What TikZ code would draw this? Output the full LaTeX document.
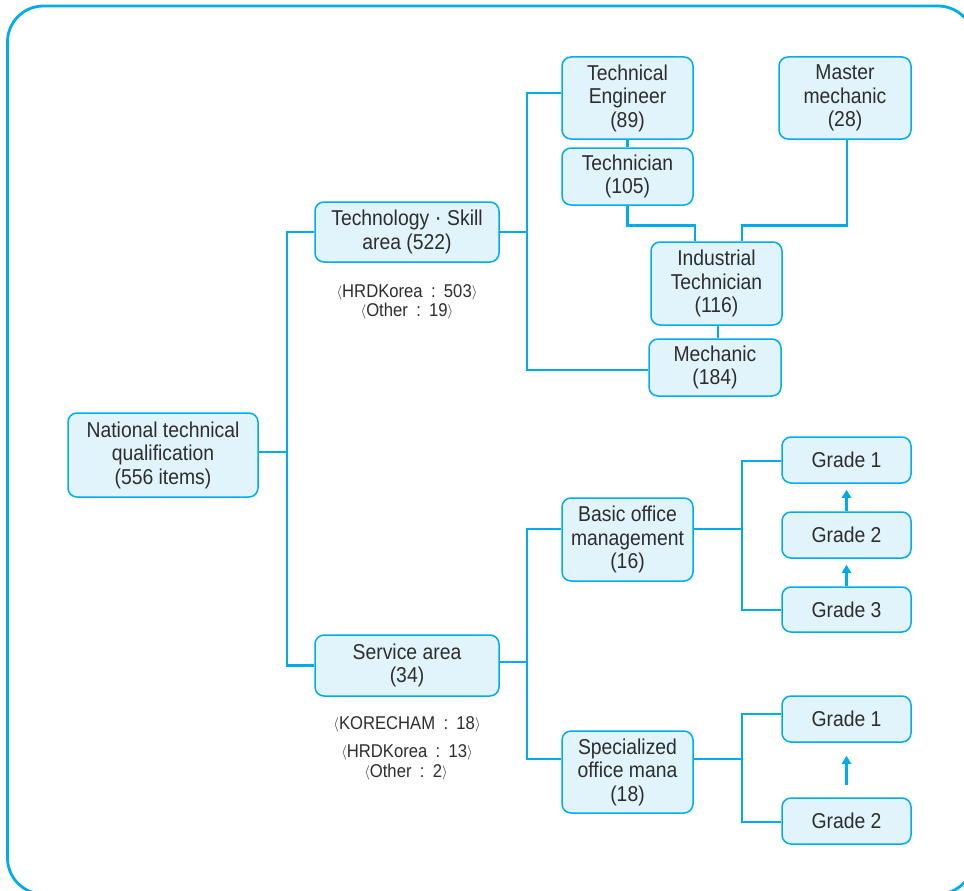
\documentclass[tikz,border=0pt]{standalone}
\usepackage{fontspec}
\setmainfont{Liberation Sans}[FakeStretch=0.9]
\usetikzlibrary{arrows.meta}

\definecolor{linecol}{RGB}{0,172,236}
\definecolor{boxfill}{RGB}{225,243,251}
\definecolor{txt}{RGB}{45,45,45}

\tikzset{
  frame/.style={draw=linecol, line width=2.8pt, rounded corners=36pt},
  qbox/.style={draw=linecol, fill=boxfill, line width=1.5pt, rounded corners=9pt,
    align=center, inner sep=0pt, text=txt,
    font=\fontsize{21.5}{23.5}\selectfont},
  conn/.style={draw=linecol, line width=2.8pt},
  up/.style={conn, -{Triangle[width=9pt,length=8pt]}},
  note/.style={text=txt, inner sep=0pt, anchor=base,
    font=\fontsize{18.5}{20}\selectfont},
}

% angle brackets and spaced colon for the count notes
\newcommand\lbr{{\fontsize{15.5}{16}\selectfont\raisebox{0.6pt}{$\langle$}}}
\newcommand\rbr{{\fontsize{15.5}{16}\selectfont\raisebox{0.6pt}{$\rangle$}}}
\newcommand\sep{\hspace{0.45em}:\hspace{0.45em}}

\begin{document}
\begin{tikzpicture}[x=1pt,y=-1pt]
\useasboundingbox (0,0) rectangle (964,891);
\fill[white] (0,0) rectangle (964,891);

% outer frame (runs past the right and bottom edges)
\draw[frame] (7.5,6) rectangle (974,894);

% boxes
\node[qbox, minimum width=190, minimum height=84] (root) at (163,455)
  {National technical\\qualification\\(556 items)};
\node[qbox, minimum width=184, minimum height=60] (tech) at (407,232)
  {Technology {\fontsize{24}{24}\selectfont ·} Skill\\area (522)};
\node[qbox, minimum width=184, minimum height=61] (serv) at (407,665.5)
  {Service area\\(34)};

\node[qbox, minimum width=131, minimum height=82] (te) at (627.5,98)
  {Technical\\Engineer\\(89)};
\node[qbox, minimum width=131, minimum height=57] (tn) at (627.5,176.5)
  {Technician\\(105)};
\node[qbox, minimum width=132, minimum height=82] (mm) at (845,98)
  {Master\\mechanic\\(28)};
\node[qbox, minimum width=131, minimum height=83] (it) at (716.5,283.5)
  {Industrial\\Technician\\(116)};
\node[qbox, minimum width=132, minimum height=57] (mech) at (715,367.5)
  {Mechanic\\(184)};

\node[qbox, minimum width=131, minimum height=83] (bom) at (627.5,539.5)
  {Basic office\\management\\(16)};
\node[qbox, minimum width=131, minimum height=82] (som) at (627.5,772)
  {Specialized\\office mana\\(18)};

\node[qbox, minimum width=129, minimum height=46] (g1a) at (846.5,460) {Grade 1};
\node[qbox, minimum width=129, minimum height=46] (g2a) at (846.5,535) {Grade 2};
\node[qbox, minimum width=129, minimum height=45] (g3a) at (846.5,609.5) {Grade 3};
\node[qbox, minimum width=129, minimum height=46] (g1b) at (846.5,719) {Grade 1};
\node[qbox, minimum width=129, minimum height=46] (g2b) at (846.5,821) {Grade 2};

% notes under the two areas
\node[note] (n1) at (407,297) {\lbr HRDKorea\sep 503\rbr};
\node[note] (n2) at (407,316) {\lbr Other\sep 19\rbr};
\node[note] (n3) at (407,729) {\lbr KORECHAM\sep 18\rbr};
\node[note] (n4) at (407,757) {\lbr HRDKorea\sep 13\rbr};
\node[note] (n5) at (406,777) {\lbr Other\sep 2\rbr};

% bus lines
\coordinate (tx) at (287,0);
\coordinate (bx) at (527,0);
\coordinate (gx) at (742,0);

% root to the two areas
\draw[conn] ([yshift=3]root.east) -- ([yshift=3]root.east -| tx);
\draw[conn] (tech.west) -- (tech.west -| tx) -- (serv.west -| tx) -- (serv.west);

% technology and skill branch
\draw[conn] (tech.east) -- (tech.east -| bx);
\draw[conn] ([yshift=5]te.west) -- ([yshift=5]te.west -| bx)
  -- ([yshift=-2.5]mech.west -| bx) -- ([yshift=-2.5]mech.west);
\draw[conn] (te.south) -- (tn.north);
\draw[conn] (tn.south) -- ++(0,20) -| ([xshift=-21.5]it.north);
\draw[conn] ([xshift=2]mm.south) -- ++(0,86) -| ([xshift=25.5]it.north);
\draw[conn] ([xshift=1.5]it.south) -- ([xshift=1.5]it.south |- mech.north);

% service branch
\draw[conn] ([yshift=3.5]serv.east) -- ([yshift=3.5]serv.east -| bx);
\draw[conn] ([yshift=10.5]bom.west) -- ([yshift=10.5]bom.west -| bx)
  -- ([yshift=13]som.west -| bx) -- ([yshift=13]som.west);

\draw[conn] ([yshift=10.5]bom.east) -- ([yshift=10.5]bom.east -| gx);
\draw[conn] ([yshift=-1]g1a.west) -- ([yshift=-1]g1a.west -| gx)
  -- ([yshift=-0.5]g3a.west -| gx) -- ([yshift=-0.5]g3a.west);

\draw[conn] ([yshift=13]som.east) -- ([yshift=13]som.east -| gx);
\draw[conn] ([yshift=5]g1b.west) -- ([yshift=5]g1b.west -| gx)
  -- ([yshift=-1]g2b.west -| gx) -- ([yshift=-1]g2b.west);

% grade progression arrows
\draw[up] (g2a.north) -- ([yshift=-6]g1a.south);
\draw[up] (g3a.north) -- ([yshift=-6]g2a.south);
\draw[up] ([yshift=12]g2b.north) -- ([yshift=-13]g1b.south);
\end{tikzpicture}
\end{document}
